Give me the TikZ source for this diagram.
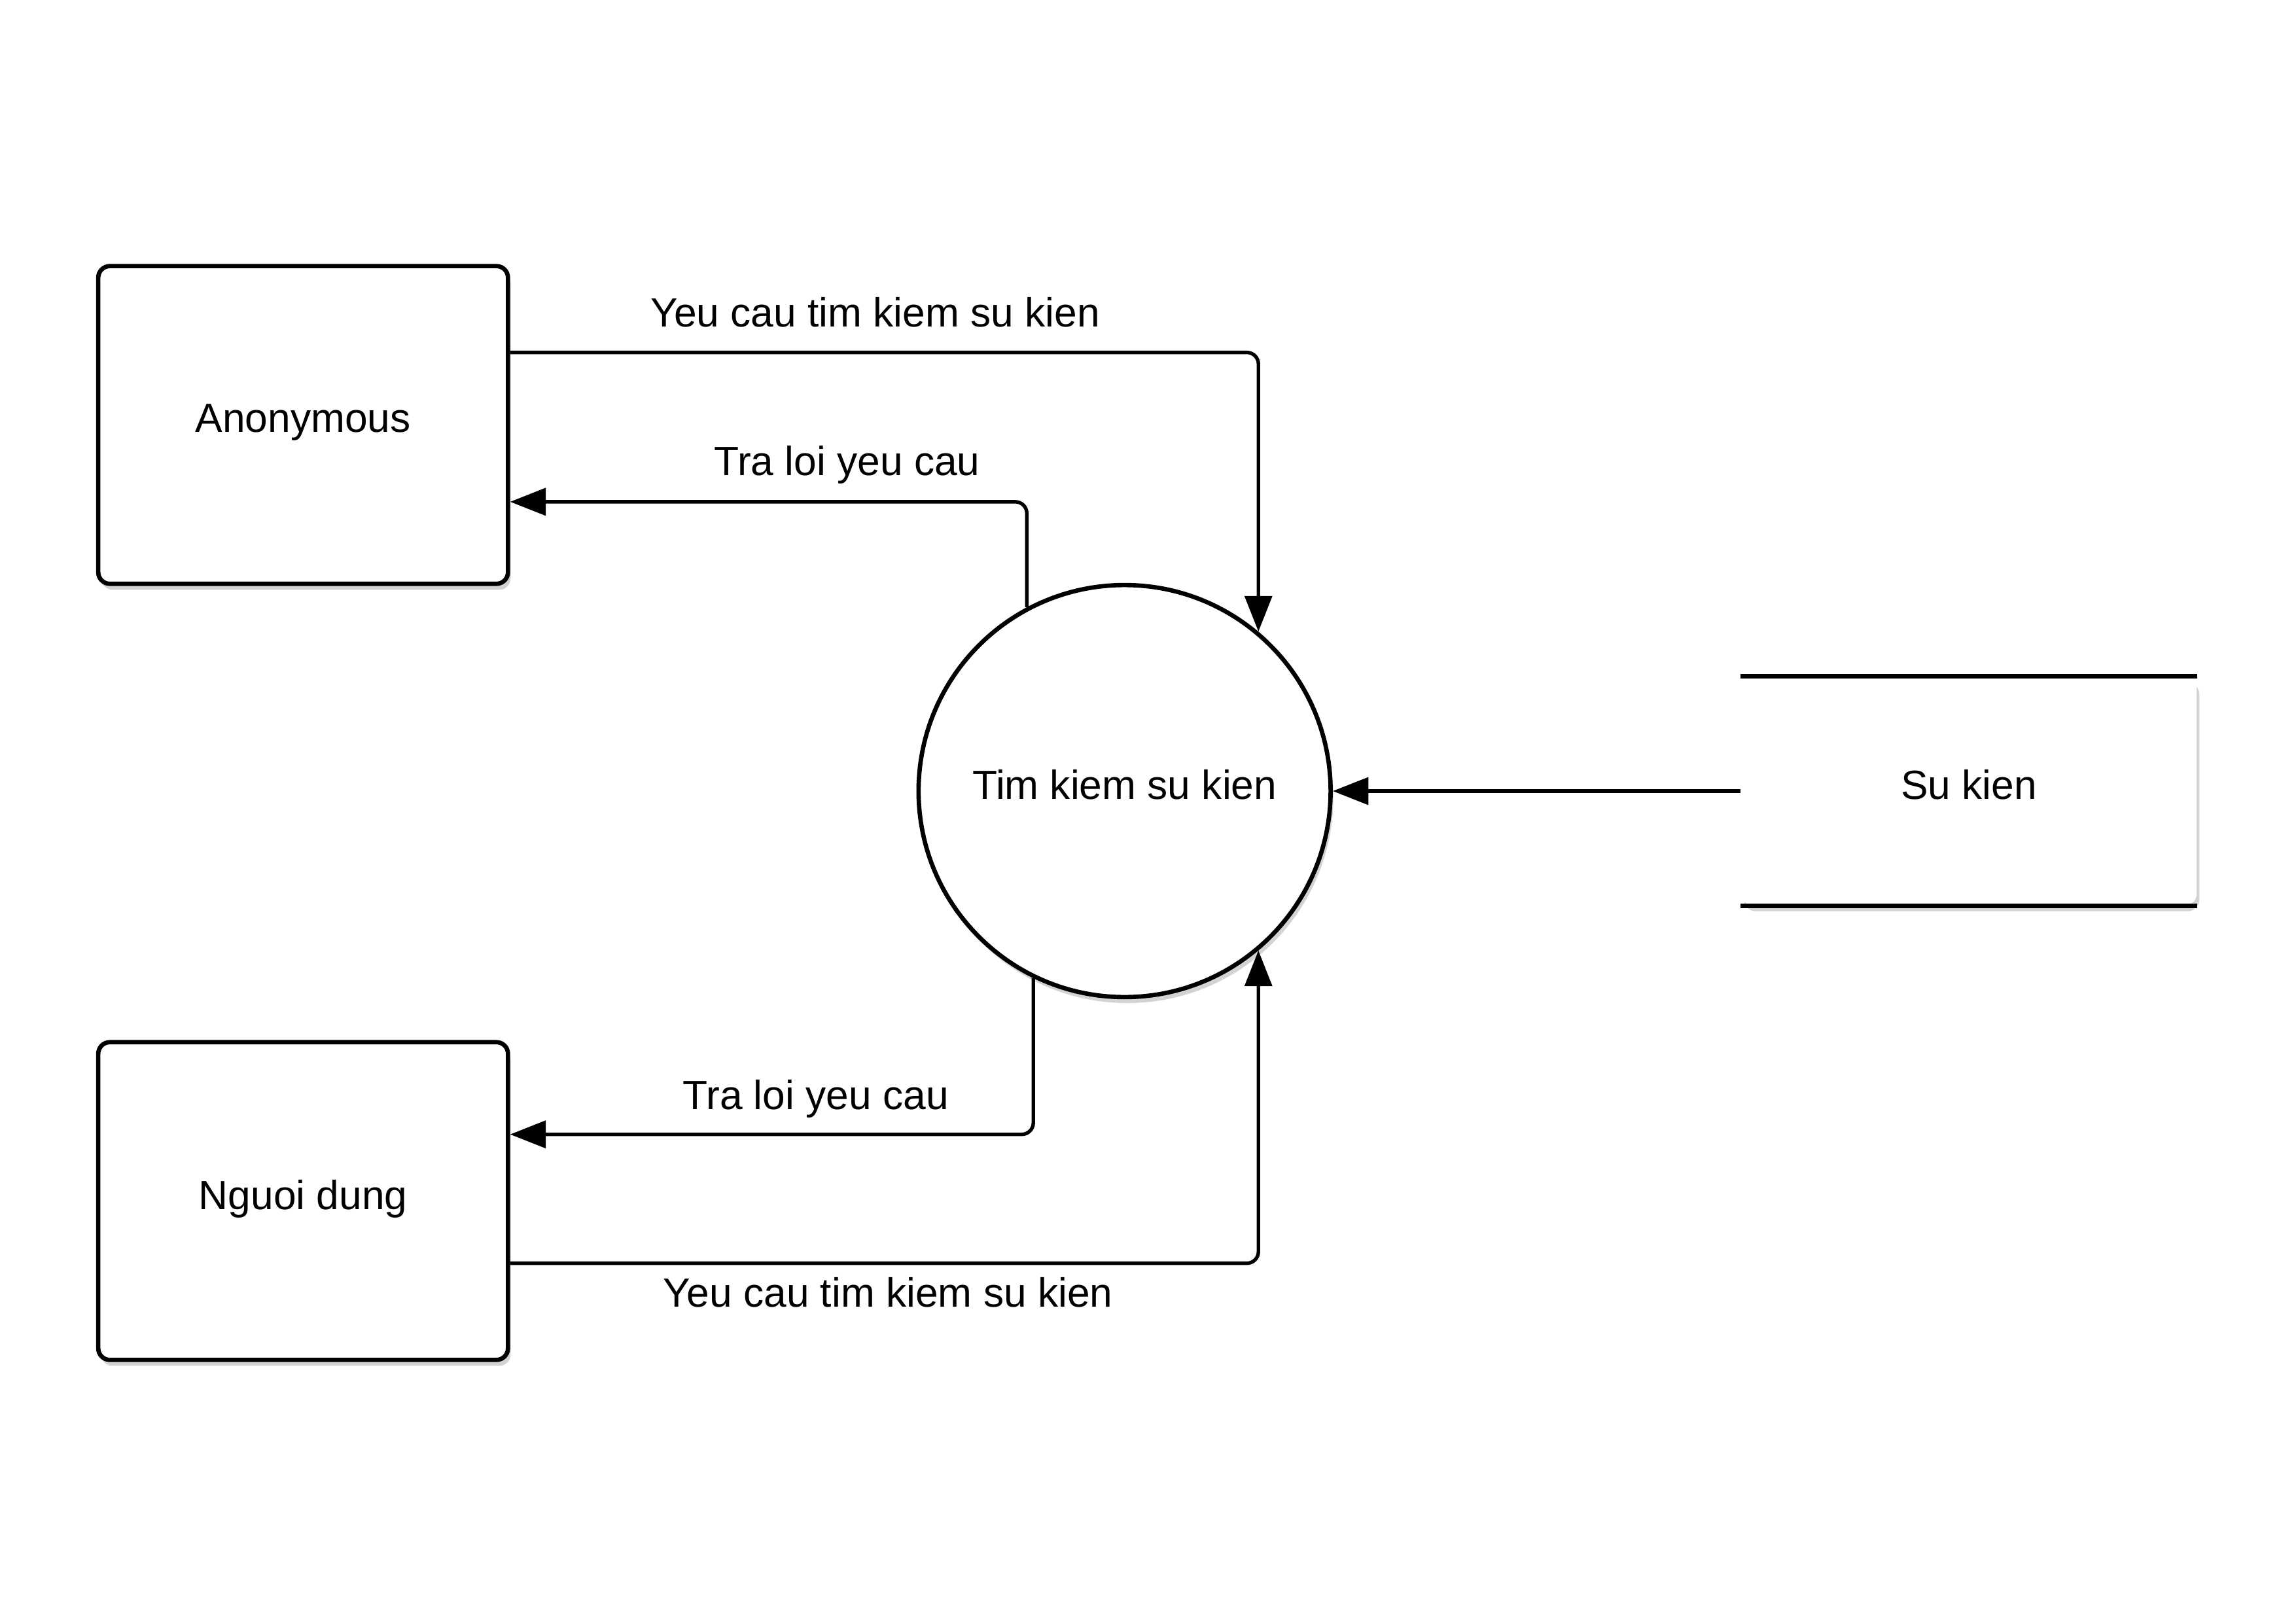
\documentclass[tikz,border=0pt]{standalone}
\usepackage{fontspec}
\setmainfont{Liberation Sans}
\usepackage{tikz}
\usetikzlibrary{calc,arrows.meta,shadows}

\begin{document}
\begin{tikzpicture}[
    font=\fontsize{15}{18}\selectfont,
    softshadow/.style={drop shadow={shadow xshift=1pt, shadow yshift=-2.2pt, opacity=0.35}},
    entity/.style={draw, line width=1.6pt, rounded corners=1.5mm, fill=white, minimum width=5.3cm, minimum height=4.11cm, text depth=0.17cm, softshadow},
    process/.style={circle, draw, line width=1.6pt, fill=white, minimum size=5.33cm, inner sep=0pt, text depth=0.17cm, softshadow},
    store/.style={fill=white, rounded corners=1.5mm, minimum width=5.89cm, minimum height=2.955cm, text depth=0.17cm, softshadow},
    storeline/.style={line width=1.6pt},
    flow/.style={line width=1.3pt, rounded corners=1.5mm, -{Triangle[length=4.6mm,width=3.5mm]}},
    ]

    \useasboundingbox (0,0) rectangle (29.7,21.0);

    \node[entity] (anon) at (3.921,15.503) {Anonymous};
    \node[entity] (user) at (3.921,5.464) {Nguoi dung};
    \node[process] (search) at (14.547,10.767) {Tim kiem su kien};
    \node[store] (event) at (25.47,10.767) {Su kien};
    \draw[storeline] (event.north west) -- (event.north east);
    \draw[storeline] (event.south west) -- (event.south east);

    \draw[flow] ([yshift=0.938cm]anon.east) -| node[above=1.9mm, pos=0.244] {Yeu cau tim kiem su kien} (search.50);
    \draw[flow] (search.118.7) |- node[above=0.9mm, pos=0.674] {Tra loi yeu cau} ([yshift=-0.994cm]anon.east);

    \draw[flow] (search.244.6) |- node[above=0.75mm, pos=0.708] {Tra loi yeu cau} ([yshift=0.862cm]user.east);
    \draw[flow] ([yshift=-0.805cm]user.east) -| node[below=0.4mm, pos=0.2525] {Yeu cau tim kiem su kien} (search.-50);

    \draw[flow] (event.west) -- (search.east);

\end{tikzpicture}
\end{document}
